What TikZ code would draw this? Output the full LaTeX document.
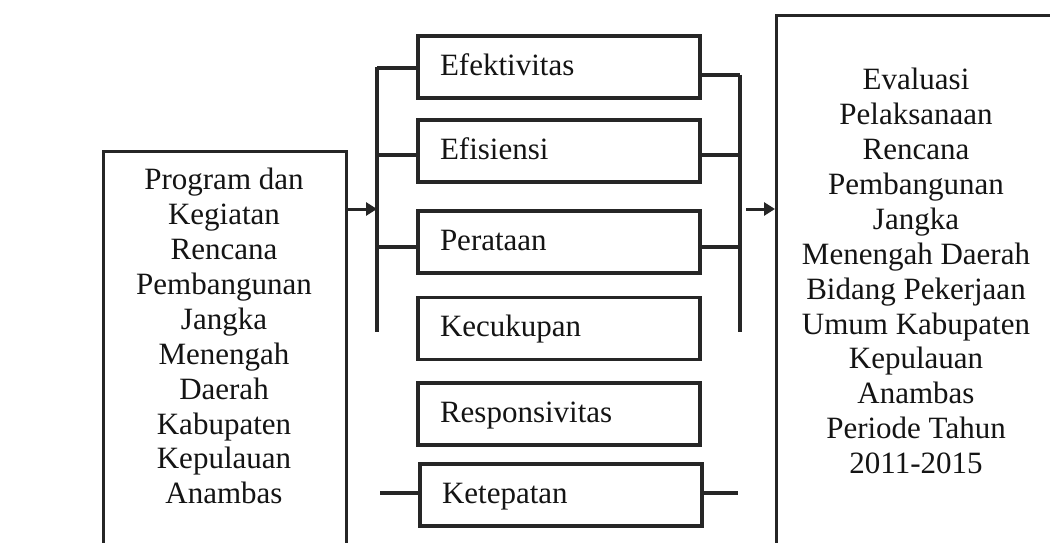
\documentclass[tikz,border=0pt]{standalone}
\usepackage{fontspec}
\setmainfont{Liberation Serif}
\usetikzlibrary{arrows.meta,calc}
\definecolor{ink}{HTML}{262626}
\definecolor{txtc}{HTML}{141414}
\begin{document}
\begin{tikzpicture}[x=1pt,y=-1pt,
  line/.style={draw=ink,line width=3.3pt},
  bigbox/.style={line,minimum width=243pt,minimum height=600pt,inner sep=0pt,anchor=north west},
  bigtxt/.style={align=center,inner sep=0pt,anchor=north,text=txtc,font=\fontsize{31}{34.9}\selectfont},
  critbox/.style={line,minimum width=282pt,minimum height=62pt,text width=238pt,align=left,inner xsep=22pt,inner ysep=0pt,text height=21pt,text depth=5pt,text=txtc,font=\fontsize{31}{35}\selectfont},
  arr/.style={draw=ink,line width=3pt,-{Triangle[length=11pt,width=13pt]}}]
\useasboundingbox (0,0) rectangle (1050,543);
\fill[white] (0,0) rectangle (1050,543);
\clip (0,0) rectangle (1050,543);

% left box
\node[bigbox] (lbox) at (102,150) {};
\node[bigtxt] (ltxt) at (224,168) {Program dan\\Kegiatan\\Rencana\\Pembangunan\\Jangka\\Menengah\\Daerah\\Kabupaten\\Kepulauan\\Anambas};

% right box
\node[bigbox,minimum width=400pt] (rbox) at (775,14) {};
\node[bigtxt] (rtxt) at (916,68) {Evaluasi\\Pelaksanaan\\Rencana\\Pembangunan\\Jangka\\Menengah Daerah\\Bidang Pekerjaan\\Umum Kabupaten\\Kepulauan\\Anambas\\Periode Tahun\\2011-2015};

% criteria boxes
\node[critbox] (c1) at (559,67) {Efektivitas};
\node[critbox] (c2) at (559,151) {Efisiensi};
\node[critbox] (c3) at (559,242) {Perataan};
\node[critbox] (c4) at (559,328.5) {Kecukupan};
\node[critbox] (c5) at (559,414) {Responsivitas};
\node[critbox] (c6) at (561,495) {Ketepatan};

% brackets
\coordinate (lbT) at (377,67);
\coordinate (lbB) at (377,332);
\coordinate (lbA) at (377,209);
\coordinate (rbT) at (740,75);
\coordinate (rbB) at (740,332);
\coordinate (rbA) at (746,209);
\draw[line] (lbT) -- (lbB);
\draw[line] (rbT) -- (rbB);

% stub end points
\coordinate (l1) at (377,68);
\coordinate (l2) at (377,155);
\coordinate (l3) at (377,247);
\coordinate (r1) at (740,75);
\coordinate (r2) at (740,155);
\coordinate (r3) at (740,247);

% left stubs
\draw[line] (l1) -- (l1 -| c1.west);
\draw[line] (l2) -- (l2 -| c2.west);
\draw[line] (l3) -- (l3 -| c3.west);
% right stubs
\draw[line] (r1 -| c1.east) -- (r1);
\draw[line] (r2 -| c2.east) -- (r2);
\draw[line] (r3 -| c3.east) -- (r3);

% Ketepatan stubs
\coordinate (kl) at (380,493);
\coordinate (kr) at (738,493);
\draw[line] (kl) -- (kl -| c6.west);
\draw[line] (kr -| c6.east) -- (kr);

% arrows
\draw[arr] (lbA -| lbox.east) -- (lbA);
\draw[arr] (rbA) -- (rbA -| rbox.west);
\end{tikzpicture}
\end{document}
